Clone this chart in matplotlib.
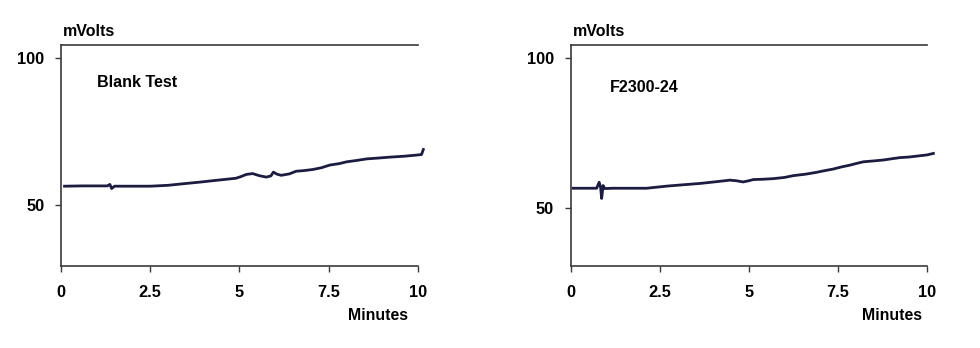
import matplotlib.pyplot as plt

t_blank = [0.10, 0.6, 1.0, 1.30, 1.37, 1.42, 1.50, 2.0, 2.5, 3.0, 3.4, 3.9, 4.35, 4.9, 5.05, 5.19,
           5.37, 5.55, 5.75, 5.88, 5.95, 6.05, 6.17, 6.4, 6.59, 6.8, 7.06, 7.3, 7.53, 7.8, 8.0,
           8.3, 8.56, 8.9, 9.21, 9.6, 9.96, 10.10, 10.15]
mv_blank = [56.4, 56.5, 56.5, 56.5, 57.0, 55.6, 56.4, 56.4, 56.4, 56.7, 57.2, 57.8, 58.4, 59.1, 59.7,
            60.4, 60.7, 60.0, 59.5, 59.9, 61.2, 60.5, 60.1, 60.6, 61.5, 61.7, 62.1, 62.7, 63.6,
            64.1, 64.7, 65.2, 65.7, 66.0, 66.3, 66.6, 67.0, 67.2, 68.9]

t_f2300 = [0.07, 0.4, 0.73, 0.80, 0.84, 0.87, 0.91, 0.96, 1.2, 1.6, 2.13, 2.69, 3.2, 3.63, 4.1,
           4.47, 4.65, 4.84, 5.0, 5.13, 5.4, 5.69, 6.0, 6.25, 6.6, 6.9, 7.1, 7.37, 7.6, 7.84,
           8.0, 8.21, 8.5, 8.77, 9.0, 9.24, 9.5, 9.71, 10.0, 10.18]
mv_f2300 = [56.7, 56.7, 56.7, 58.7, 57.0, 53.3, 57.6, 56.6, 56.7, 56.7, 56.7, 57.4, 57.9, 58.3, 58.9,
            59.4, 59.2, 58.8, 59.2, 59.6, 59.7, 59.9, 60.3, 60.9, 61.4, 62.0, 62.5, 63.1, 63.8, 64.4,
            64.9, 65.5, 65.8, 66.1, 66.5, 66.9, 67.1, 67.4, 67.8, 68.3]

x_ticks = [0, 2.5, 5, 7.5, 10]
x_labels = ['0', '2.5', '5', '7.5', '10']
y_ticks = [50, 100]

plt.rcParams['font.family'] = ['Liberation Sans', 'DejaVu Sans']

fig = plt.figure(figsize=(9.8, 3.48), dpi=100)
ax1 = fig.add_axes([0.0622, 0.2356, 0.3643, 0.635])
ax2 = fig.add_axes([0.5823, 0.2356, 0.3636, 0.635])

paineis = [
    (ax1, t_blank, mv_blank, 'Blank Test', (0.10, 0.831), (29.2, 104.5), 0.888),
    (ax2, t_f2300, mv_f2300, 'F2300-24', (0.11, 0.807), (30.8, 104.4), 0.901),
]

for ax, t, mv, titulo, pos, ylim, xmin in paineis:
    ax.plot(t, mv, color='#1c1c40', linewidth=2.0, clip_on=False)
    ax.set_xlim(0, 10)
    ax.set_ylim(*ylim)
    ax.set_xticks(x_ticks)
    ax.set_xticklabels(x_labels)
    ax.set_yticks(y_ticks)
    ax.spines['right'].set_visible(False)
    for s in ['left', 'bottom', 'top']:
        ax.spines[s].set_color('#3a3a3a')
        ax.spines[s].set_linewidth(1.2)
    ax.tick_params(axis='both', direction='out', length=4, width=1.0, color='#3a3a3a',
                   labelsize=11.8)
    ax.tick_params(axis='x', pad=10)
    ax.tick_params(axis='y', pad=8)
    for lab in ax.get_xticklabels() + ax.get_yticklabels():
        lab.set_fontweight('bold')
    ax.text(0.005, 1.059, 'mVolts', transform=ax.transAxes, fontsize=11.5,
            fontweight='bold', ha='left', va='center')
    ax.text(pos[0], pos[1], titulo, transform=ax.transAxes, fontsize=11.6,
            fontweight='bold', ha='left', va='center')
    ax.text(xmin, -0.226, 'Minutes', transform=ax.transAxes, fontsize=11.4,
            fontweight='bold', ha='center', va='center')

plt.savefig('out.png', dpi=100)
